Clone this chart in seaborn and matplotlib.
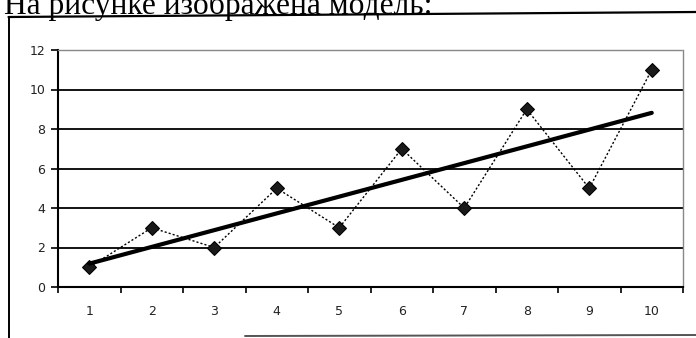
import matplotlib
matplotlib.use("Agg")
import matplotlib.pyplot as plt
import seaborn as sns
import numpy as np
import pandas as pd
from matplotlib.lines import Line2D
from matplotlib.ticker import FixedLocator, NullFormatter

# Series values
periods = [1, 2, 3, 4, 5, 6, 7, 8, 9, 10]
values = [1, 3, 2, 5, 3, 7, 4, 9, 5, 11]
y_ticks = [0, 2, 4, 6, 8, 10, 12]
caption = "На рисунке изображена модель:"

df = pd.DataFrame({"t": periods, "y": values})

sns.set_theme(style="white")
plt.rcParams["font.family"] = ["DejaVu Sans"]

fig = plt.figure(figsize=(6.96, 3.38), dpi=100)
ax = fig.add_axes([58 / 696, 1 - 287 / 338, (683 - 58) / 696, (287 - 50) / 338])

# observed series: dotted line with diamond markers
sns.lineplot(data=df, x="t", y="y", ax=ax, color="black", linestyle=(0, (1.5, 1.5)),
             linewidth=1.0, marker="D", markersize=7, markeredgecolor="black",
             markerfacecolor="#1a1a1a")
# linear trend
sns.regplot(data=df, x="t", y="y", ax=ax, scatter=False, ci=None, truncate=True,
            line_kws={"color": "black", "linewidth": 3.0})

ax.set_xlim(0.5, 10.5)
ax.set_ylim(0, 12)
ax.set_xlabel("")
ax.set_ylabel("")

# horizontal gridlines
for v in y_ticks[1:-1]:
    ax.axhline(v, color="black", linewidth=1.3, zorder=0)

ax.set_yticks(y_ticks)
ax.set_yticklabels([str(v) for v in y_ticks])
ax.xaxis.set_major_locator(FixedLocator(np.arange(0.5, 11, 1.0)))
ax.xaxis.set_major_formatter(NullFormatter())
ax.xaxis.set_minor_locator(FixedLocator(periods))
ax.set_xticklabels([str(p) for p in periods], minor=True)
ax.tick_params(axis="x", which="major", direction="out", length=4, width=1.2,
               color="black", bottom=True)
ax.tick_params(axis="x", which="minor", length=0, pad=13, labelsize=9,
               labelcolor="#222222", bottom=True)
ax.tick_params(axis="y", direction="out", length=5, width=1.2, color="black",
               pad=4, labelsize=9, labelcolor="#222222", left=True)

for side in ["left", "bottom"]:
    ax.spines[side].set_color("black")
    ax.spines[side].set_linewidth(1.5)
for side in ["top", "right"]:
    ax.spines[side].set_color("#888888")
    ax.spines[side].set_linewidth(1.0)
    ax.spines[side].set_linestyle((0, (1, 1)))

# surrounding frame and caption
fig.add_artist(Line2D([8.5 / 696, 8.5 / 696], [0, 1 - 17 / 338], color="black",
                      linewidth=1.4, transform=fig.transFigure))
fig.add_artist(Line2D([8.5 / 696, 1.0], [1 - 17 / 338, 1 - 12 / 338], color="black",
                      linewidth=1.6, transform=fig.transFigure))
fig.add_artist(Line2D([245 / 696, 1.0], [1 - 336 / 338, 1 - 335 / 338], color="#555555",
                      linewidth=1.4, transform=fig.transFigure))
fig.text(4 / 696, 1 - 14 / 338, caption, family="Liberation Serif", fontsize=22.7,
         color="black", va="baseline", ha="left")

fig.savefig("out.png", dpi=100)
